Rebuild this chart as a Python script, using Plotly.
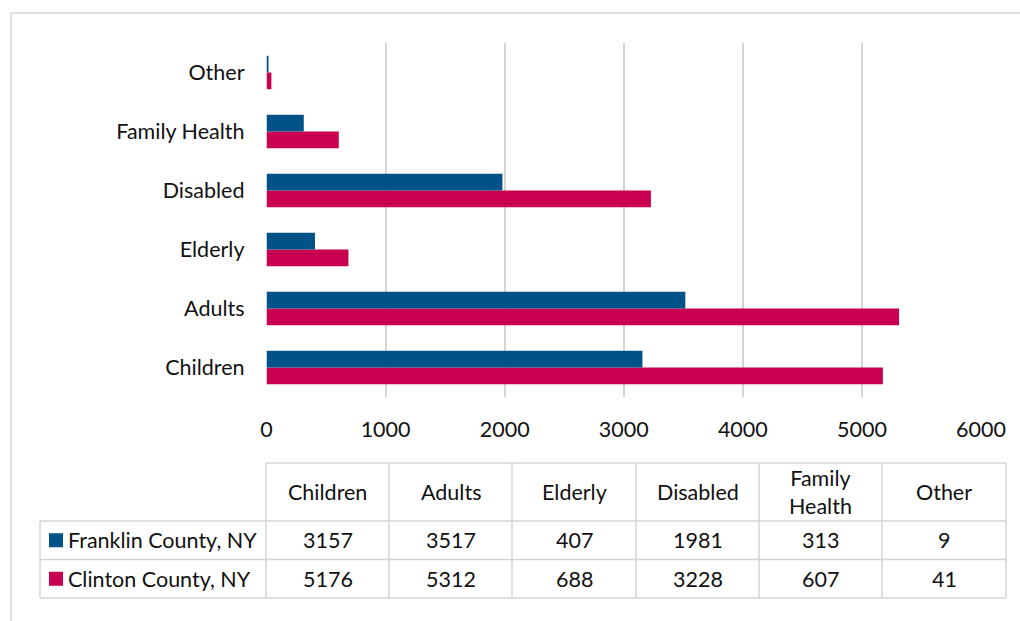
import plotly.graph_objects as go

# ---- data ----
categories = ["Children", "Adults", "Elderly", "Disabled", "Family Health", "Other"]
header_labels = ["Children", "Adults", "Elderly", "Disabled", "Family<br>Health", "Other"]
series_names = ["Franklin County, NY", "Clinton County, NY"]
franklin = [3157, 3517, 407, 1981, 313, 9]
clinton = [5176, 5312, 688, 3228, 607, 41]
x_ticks = [0, 1000, 2000, 3000, 4000, 5000, 6000]

colors = {"Franklin County, NY": "#005288", "Clinton County, NY": "#C8004F"}

W, H = 1020, 621
FONT = "Lato"
FS = 21.5
TXT = "#111111"
GRID = "#d4d4d4"


def px(x):
    return x / W


def py(y):
    return 1 - y / H


fig = go.Figure()
# Clinton first so that Franklin sits on top within each group
fig.add_trace(go.Bar(y=categories, x=clinton, orientation="h", name=series_names[1],
                     marker=dict(color=colors[series_names[1]], line=dict(width=0))))
fig.add_trace(go.Bar(y=categories, x=franklin, orientation="h", name=series_names[0],
                     marker=dict(color=colors[series_names[0]], line=dict(width=0))))

shapes = []
annotations = []

border = dict(color=GRID, width=1.5)
# outer chart border (top and left edges visible in frame)
shapes.append(dict(type="line", xref="paper", yref="paper", x0=px(11), x1=1,
                   y0=py(13), y1=py(13), line=border, layer="below"))
shapes.append(dict(type="line", xref="paper", yref="paper", x0=px(11), x1=px(11),
                   y0=py(13), y1=0, line=border, layer="below"))

# data table
col_edges = [40, 266, 389, 512, 636, 759, 882, 1006]
row_edges = [463, 521, 559.5, 598]
line = dict(color=GRID, width=1.5)
# horizontal lines
shapes.append(dict(type="line", xref="paper", yref="paper", x0=px(col_edges[1]), x1=px(col_edges[-1]),
                   y0=py(row_edges[0]), y1=py(row_edges[0]), line=line))
for r in row_edges[1:]:
    shapes.append(dict(type="line", xref="paper", yref="paper", x0=px(col_edges[0]), x1=px(col_edges[-1]),
                       y0=py(r), y1=py(r), line=line))
# vertical lines
shapes.append(dict(type="line", xref="paper", yref="paper", x0=px(col_edges[0]), x1=px(col_edges[0]),
                   y0=py(row_edges[1]), y1=py(row_edges[-1]), line=line))
for c in col_edges[1:]:
    shapes.append(dict(type="line", xref="paper", yref="paper", x0=px(c), x1=px(c),
                       y0=py(row_edges[0]), y1=py(row_edges[-1]), line=line))

font = dict(family=FONT, size=FS, color=TXT)
# header
for i, lab in enumerate(header_labels):
    cx = (col_edges[i + 1] + col_edges[i + 2]) / 2
    cy = (row_edges[0] + row_edges[1]) / 2
    annotations.append(dict(x=px(cx), y=py(cy), xref="paper", yref="paper", text=lab,
                            showarrow=False, xanchor="center", yanchor="middle", font=font))
# rows
for r, (name, vals) in enumerate(zip(series_names, [franklin, clinton])):
    cy = (row_edges[r + 1] + row_edges[r + 2]) / 2
    shapes.append(dict(type="rect", xref="paper", yref="paper", x0=px(49), x1=px(63),
                       y0=py(cy - 7), y1=py(cy + 7), fillcolor=colors[name], line=dict(width=0)))
    annotations.append(dict(x=px(66), y=py(cy), xref="paper", yref="paper", text=name,
                            showarrow=False, xanchor="left", yanchor="middle", font=font))
    for i, v in enumerate(vals):
        cx = (col_edges[i + 1] + col_edges[i + 2]) / 2
        annotations.append(dict(x=px(cx), y=py(cy), xref="paper", yref="paper", text=str(v),
                                showarrow=False, xanchor="center", yanchor="middle", font=font))

fig.update_layout(
    width=W, height=H, autosize=False,
    margin=dict(l=0, r=0, t=0, b=0, pad=0),
    paper_bgcolor="white", plot_bgcolor="white",
    barmode="group", bargap=0.435, bargroupgap=0,
    showlegend=False,
    font=dict(family=FONT, size=FS, color=TXT),
    shapes=shapes, annotations=annotations,
    xaxis=dict(domain=[px(266.5), px(981)], range=[0, 6000], tickvals=x_ticks,
               automargin=False,
               showgrid=True, gridcolor=GRID, gridwidth=1.5, zeroline=False,
               showline=False, ticks="", ticklabelstandoff=17,
               tickfont=dict(family=FONT, size=FS, color=TXT)),
    yaxis=dict(domain=[1 - 397 / H, 1 - 43 / H], type="category",
               automargin=False,
               showgrid=False, zeroline=False, showline=False, ticks="",
               ticklabelstandoff=21,
               tickfont=dict(family=FONT, size=FS, color=TXT)),
)

fig.write_html("out.html", config={"displayModeBar": False, "responsive": False},
               post_script="document.body.style.margin='0';document.body.style.overflow='hidden';")
